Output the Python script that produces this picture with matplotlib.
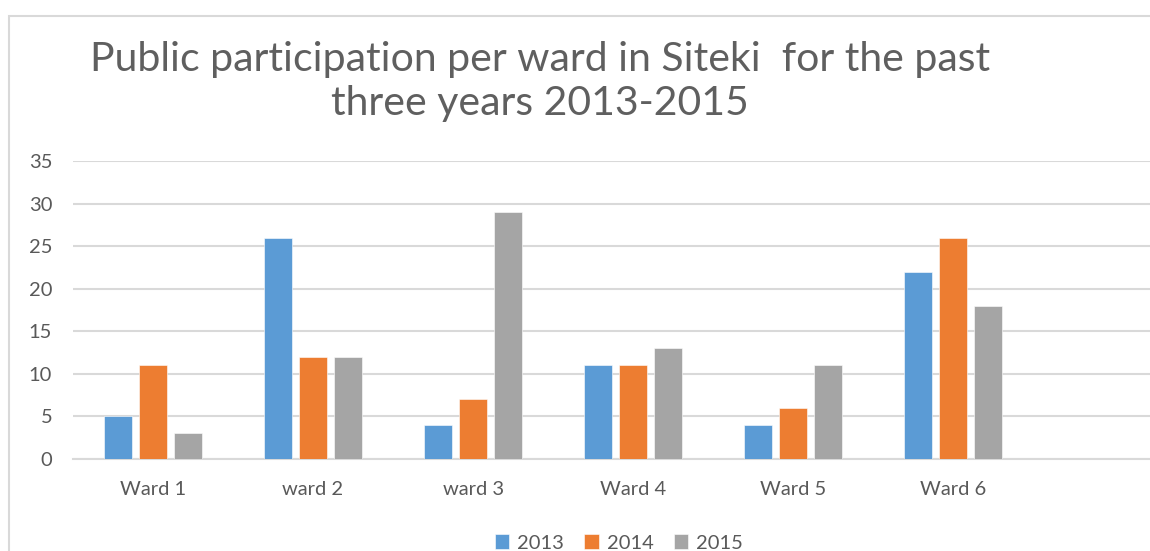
import matplotlib
matplotlib.use("Agg")
import matplotlib.pyplot as plt
import numpy as np
from matplotlib.patches import Rectangle

# 資料
wards = ["Ward 1", "ward 2", "ward 3", "Ward 4", "Ward 5", "Ward 6"]
years = ["2013", "2014", "2015"]
values_2013 = [5, 26, 4, 11, 4, 22]
values_2014 = [11, 12, 7, 11, 6, 26]
values_2015 = [3, 12, 29, 13, 11, 18]
yticks = [0, 5, 10, 15, 20, 25, 30, 35]

colors = ["#5B9BD5", "#ED7D31", "#A5A5A5"]
text_color = "#595959"
grid_color = "#D9D9D9"

plt.rcParams["font.family"] = ["Lato", "DejaVu Sans"]

fig = plt.figure(figsize=(11.5, 5.51), dpi=100)

# 外框
fig.patches.append(Rectangle((9 / 1150, -0.1), 1.2, 0.1 + (551 - 16) / 551,
                             transform=fig.transFigure, fill=False,
                             edgecolor=grid_color, linewidth=1.5))

ax = fig.add_axes([73 / 1150, 92 / 551, 1 - 73 / 1150, 298 / 551])

x = np.arange(len(wards))
bar_w = 0.175
step = 0.219
for i, (vals, c, yr) in enumerate(zip([values_2013, values_2014, values_2015], colors, years)):
    ax.bar(x + (i - 1) * step, vals, width=bar_w, color=c, label=yr,
           edgecolor="white", linewidth=0.4, zorder=3)

ax.set_xlim(-0.5, 6.23)
ax.set_ylim(0, 35)
ax.set_yticks(yticks)
ax.set_xticks(x)
ax.set_xticklabels(wards)
ax.grid(axis="y", color=grid_color, linewidth=1.5, zorder=0)
for s in ["top", "right", "left"]:
    ax.spines[s].set_visible(False)
ax.spines["bottom"].set_color(grid_color)
ax.spines["bottom"].set_linewidth(1.5)
ax.tick_params(axis="both", length=0, labelsize=14.5, colors=text_color)
ax.tick_params(axis="y", pad=15)
ax.tick_params(axis="x", pad=16)

title_font = dict(ha="center", va="center", fontsize=29.5, color="#5f5f5f",
                  fontweight="normal", family=["Lato", "DejaVu Sans"])
fig.text(540 / 1150, 1 - 60 / 551, "Public participation per ward in Siteki  for the past", **title_font)
fig.text(540 / 1150, 1 - 104 / 551, "three years 2013-2015", **title_font)

fig.legend(loc="center", bbox_to_anchor=(619 / 1150, 8 / 551), ncol=3, frameon=False,
           fontsize=14.5, handlelength=0.7, handleheight=0.7, handletextpad=0.4,
           columnspacing=1.0, labelcolor=text_color)

fig.savefig("out.png", dpi=100)
